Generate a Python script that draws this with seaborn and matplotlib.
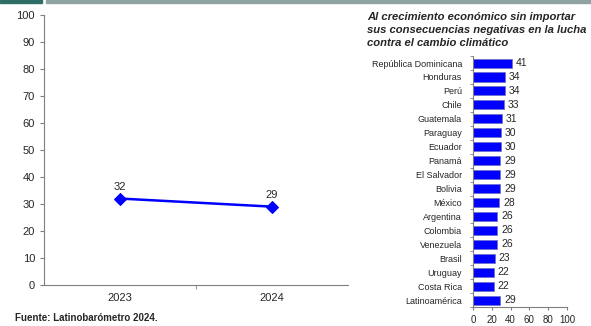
import matplotlib
matplotlib.use("Agg")
import matplotlib.pyplot as plt
import seaborn as sns
import pandas as pd
from matplotlib.patches import Rectangle

years = ["2023", "2024"]
trend = [32, 29]

countries = ["República Dominicana", "Honduras", "Perú", "Chile", "Guatemala",
             "Paraguay", "Ecuador", "Panamá", "El Salvador", "Bolivia", "México",
             "Argentina", "Colombia", "Venezuela", "Brasil", "Uruguay",
             "Costa Rica", "Latinoamérica"]
pct = [41, 34, 34, 33, 31, 30, 30, 29, 29, 29, 28, 26, 26, 26, 23, 22, 22, 29]

title = ("Al crecimiento económico sin importar\n"
         "sus consecuencias negativas en la lucha\n"
         "contra el cambio climático")
source = "Fuente: Latinobarómetro 2024."

sns.set_style("white")
plt.rcParams["font.family"] = ["Liberation Sans", "DejaVu Sans"]

blue = "#0000ff"
axis_col = "#7f7f7f"

fig = plt.figure(figsize=(5.91, 3.26), dpi=100)

# top decoration strip
fig.patches.append(Rectangle((0, 0.99), 42 / 591, 0.01, transform=fig.transFigure,
                             color="#2f6f66", zorder=0))
fig.patches.append(Rectangle((46 / 591, 0.99), 1, 0.01, transform=fig.transFigure,
                             color="#8fa3a0", zorder=0))

# --- left: line chart ---
ax1 = fig.add_axes([44 / 591, 0.126, 304 / 591, 0.828])
df1 = pd.DataFrame({"year": [0, 1], "value": trend})
sns.lineplot(data=df1, x="year", y="value", ax=ax1, color=blue, lw=1.8,
             marker="D", markersize=6, markeredgecolor=blue)
for x, v in zip(df1["year"], df1["value"]):
    ax1.annotate(str(v), (x, v), xytext=(0, 5), textcoords="offset points",
                 ha="center", va="bottom", fontsize=8)
ax1.set_xlim(-0.5, 1.5)
ax1.set_ylim(0, 100)
ax1.set_yticks(range(0, 101, 10))
ax1.set_xticks([0, 1])
ax1.set_xticklabels(years)
ax1.set_xticks([0.5], minor=True)
ax1.tick_params(axis="x", which="major", length=0, labelsize=8, pad=6)
ax1.tick_params(axis="x", which="minor", length=3, direction="out",
                color=axis_col, bottom=True)
ax1.tick_params(axis="y", length=3, direction="out", labelsize=8,
                color=axis_col, left=True)
ax1.set_xlabel("")
ax1.set_ylabel("")
for s in ["top", "right"]:
    ax1.spines[s].set_visible(False)
for s in ["left", "bottom"]:
    ax1.spines[s].set_color(axis_col)
    ax1.spines[s].set_linewidth(0.8)
ax1.patch.set_alpha(0)

# --- right: bar chart ---
ax2 = fig.add_axes([473 / 591, 0.058, 94 / 591, 0.770])
df2 = pd.DataFrame({"country": countries, "pct": pct})
sns.barplot(data=df2, x="pct", y="country", ax=ax2, color=blue, width=0.65,
            edgecolor="#6f6fc0", linewidth=0.5, saturation=1, orient="h")
for i, v in enumerate(pct):
    ax2.text(v + 4, i, str(v), va="center", ha="left", fontsize=7.5)
ax2.set_xlim(0, 100)
ax2.set_ylim(len(countries) - 0.5, -0.5)
ax2.set_xticks(range(0, 101, 20))
ax2.set_yticks(range(len(countries)))
ax2.set_yticks([i - 0.5 for i in range(len(countries) + 1)], minor=True)
ax2.tick_params(axis="y", which="major", length=0, labelsize=6.5, pad=8)
ax2.tick_params(axis="y", which="minor", length=2.5, direction="out",
                color=axis_col, left=True)
ax2.tick_params(axis="x", length=2.5, direction="out", labelsize=7,
                color=axis_col, bottom=True, pad=3)
ax2.set_xlabel("")
ax2.set_ylabel("")
for s in ["top", "right"]:
    ax2.spines[s].set_visible(False)
for s in ["left", "bottom"]:
    ax2.spines[s].set_color(axis_col)
    ax2.spines[s].set_linewidth(0.8)
ax2.patch.set_alpha(0)

fig.text(367 / 591, 1 - 12 / 326, title, ha="left", va="top", fontsize=8.1,
         fontweight="bold", fontstyle="italic", linespacing=1.35)
fig.text(15 / 591, 1 - 318 / 326, source, ha="left", va="center", fontsize=7,
         fontweight="bold")

fig.savefig("out.png", dpi=100)
